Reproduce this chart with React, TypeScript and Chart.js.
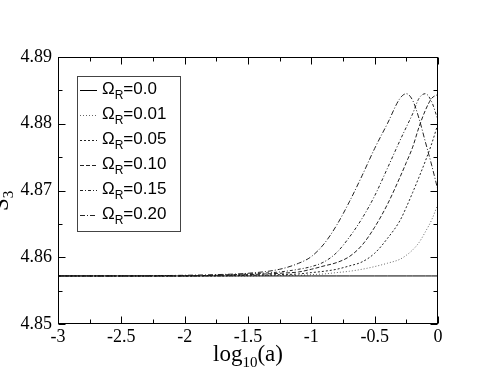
import React, { useEffect, useRef } from "react";
import { Chart, registerables } from "chart.js";

Chart.register(...registerables);

const logA = [-3, -2.5, -2, -1.75, -1.5, -1.25, -1.1, -1.0, -0.9, -0.8, -0.7, -0.6, -0.5, -0.4, -0.3, -0.25, -0.2, -0.15, -0.1, -0.05, 0];

const omega000 = [4.8572, 4.8572, 4.8572, 4.8572, 4.8572, 4.8572, 4.8572, 4.8572, 4.8572, 4.8572, 4.8572, 4.8572, 4.8572, 4.8572, 4.8572, 4.8572, 4.8572, 4.8572, 4.8572, 4.8572, 4.8572];
const omega001 = [4.8572, 4.8572, 4.8572, 4.8572, 4.8572, 4.8573, 4.8573, 4.8574, 4.8575, 4.8577, 4.8579, 4.8582, 4.8586, 4.8591, 4.8597, 4.8603, 4.8611, 4.8622, 4.8638, 4.8656, 4.868];
const omega005 = [4.8572, 4.8572, 4.8572, 4.8572, 4.8573, 4.8574, 4.8575, 4.8577, 4.8579, 4.8582, 4.8587, 4.8593, 4.8606, 4.8628, 4.8655, 4.8675, 4.8697, 4.872, 4.8744, 4.877, 4.88];
const omega010 = [4.8572, 4.8572, 4.8572, 4.8573, 4.8574, 4.8576, 4.8578, 4.8582, 4.8587, 4.8592, 4.8601, 4.8618, 4.8645, 4.8679, 4.872, 4.8742, 4.8765, 4.8795, 4.882, 4.8838, 4.8844];
const omega015 = [4.8572, 4.8572, 4.8572, 4.8573, 4.8575, 4.8578, 4.8582, 4.8586, 4.8593, 4.8607, 4.8630, 4.8658, 4.8692, 4.8733, 4.8775, 4.8795, 4.8815, 4.8838, 4.8845, 4.8833, 4.8805];
const omega020 = [4.8572, 4.8572, 4.8573, 4.8574, 4.8576, 4.8582, 4.8591, 4.8601, 4.862, 4.8648, 4.8683, 4.8722, 4.8763, 4.88, 4.8838, 4.8845, 4.8835, 4.8808, 4.8773, 4.8738, 4.87];

const seriesLabels = ["0.0", "0.01", "0.05", "0.10", "0.15", "0.20"];
const seriesValues = [omega000, omega001, omega005, omega010, omega015, omega020];
const seriesDash = [[], [1, 2], [2, 2], [4, 2], [3, 2, 1, 2], [5, 2, 1, 2]];
const seriesColor = ["#000000", "#666666", "#222222", "#222222", "#222222", "#222222"];

const yTickValues = [4.85, 4.86, 4.87, 4.88, 4.89];

const SERIF = "'Liberation Serif', 'Times New Roman', Times, serif";
const SANS = "'Liberation Sans', Arial, sans-serif";

Chart.defaults.font.family = SERIF;

const decorPlugin = {
  id: "decor",
  afterDraw(chart: any) {
    const ctx = chart.ctx as CanvasRenderingContext2D;
    const area = chart.chartArea;
    const xs = chart.scales.x;
    const ys = chart.scales.y;
    ctx.save();
    ctx.strokeStyle = "#000";
    ctx.lineWidth = 1;
    ctx.setLineDash([]);
    const L = Math.round(area.left) + 0.5;
    const R = Math.round(area.right) - 0.5;
    const T = Math.round(area.top) + 0.5;
    const B = Math.round(area.bottom) - 0.5;
    ctx.strokeRect(L, T, R - L, B - T);
    ctx.beginPath();
    for (let i = 0; i <= 12; i++) {
      const v = -3 + i * 0.25;
      const px = Math.round(xs.getPixelForValue(v)) + 0.5;
      const len = i % 2 === 0 ? 7 : 4;
      ctx.moveTo(px, B);
      ctx.lineTo(px, B - len);
      ctx.moveTo(px, T);
      ctx.lineTo(px, T + len);
    }
    for (let i = 0; i <= 8; i++) {
      const v = 4.85 + i * 0.005;
      const py = Math.round(ys.getPixelForValue(v)) + 0.5;
      const len = i % 2 === 0 ? 7 : 4;
      ctx.moveTo(L, py);
      ctx.lineTo(L + len, py);
      ctx.moveTo(R, py);
      ctx.lineTo(R - len, py);
    }
    ctx.stroke();

    ctx.fillStyle = "#000";
    ctx.textBaseline = "alphabetic";
    ctx.textAlign = "left";
    const big = "23px " + SERIF;
    const small = "15px " + SERIF;
    ctx.font = big;
    const w1 = ctx.measureText("log").width;
    const w3 = ctx.measureText("(a)").width;
    ctx.font = small;
    const w2 = ctx.measureText("10").width;
    const total = w1 + w2 + w3;
    const cx = (area.left + area.right) / 2;
    const x0 = cx - total / 2;
    const base = 361;
    ctx.font = big;
    ctx.fillText("log", x0, base);
    ctx.font = small;
    ctx.fillText("10", x0 + w1, base + 6);
    ctx.font = big;
    ctx.fillText("(a)", x0 + w1 + w2, base);

    ctx.save();
    ctx.translate(8, 211);
    ctx.rotate(-Math.PI / 2);
    ctx.font = big;
    ctx.fillText("S", 0, 0);
    const sw = ctx.measureText("S").width;
    ctx.font = small;
    ctx.fillText("3", sw, 5);
    ctx.restore();

    const bx = 77.5, by = 76.5, bw = 103, bh = 155;
    ctx.fillStyle = "#fff";
    ctx.fillRect(bx, by, bw, bh);
    ctx.strokeStyle = "#444";
    ctx.lineWidth = 1;
    ctx.strokeRect(bx, by, bw, bh);
    const datasets = chart.data.datasets;
    for (let i = 0; i < datasets.length; i++) {
      const ds = datasets[i];
      const baseY = 94 + i * 25;
      ctx.strokeStyle = ds.borderColor;
      ctx.lineWidth = 1;
      ctx.setLineDash(ds.borderDash || []);
      ctx.beginPath();
      ctx.moveTo(80, baseY - 3.5);
      ctx.lineTo(97, baseY - 3.5);
      ctx.stroke();
      ctx.setLineDash([]);
      ctx.fillStyle = "#000";
      ctx.font = "17px " + SANS;
      let tx = 102;
      ctx.fillText("\u03A9", tx, baseY);
      tx += ctx.measureText("\u03A9").width;
      ctx.font = "12px " + SANS;
      ctx.fillText("R", tx, baseY + 5);
      tx += ctx.measureText("R").width;
      ctx.font = "17px " + SANS;
      ctx.fillText("=" + seriesLabels[i], tx, baseY);
    }
    ctx.restore();
  },
};

export default function App() {
  const canvasRef = useRef<HTMLCanvasElement | null>(null);

  useEffect(() => {
    const canvas = canvasRef.current;
    if (!canvas) return;
    const datasets = seriesValues.map((vals, i) => ({
      label: "\u03A9R=" + seriesLabels[i],
      data: logA.map((x, j) => ({ x, y: vals[j] })),
      borderColor: seriesColor[i],
      borderWidth: 1,
      borderDash: seriesDash[i],
      pointRadius: 0,
      fill: false,
      cubicInterpolationMode: "monotone" as const,
      tension: 0.4,
    }));
    const chart = new Chart(canvas, {
      type: "line",
      data: { datasets },
      options: {
        responsive: false,
        animation: false,
        devicePixelRatio: 1,
        layout: { padding: { left: 0, top: 57, right: 56, bottom: 0 } },
        plugins: { legend: { display: false }, tooltip: { enabled: false } },
        scales: {
          x: {
            type: "linear",
            min: -3,
            max: 0,
            grid: { display: false, drawTicks: false },
            border: { display: false },
            afterFit: (s: any) => {
              s.height = 58;
            },
            ticks: {
              stepSize: 0.5,
              padding: 2,
              color: "#000",
              maxRotation: 0,
              font: { family: SERIF, size: 18 },
              callback: (v: any) => String(Number(Number(v).toFixed(1))),
            },
          },
          y: {
            type: "linear",
            min: 4.85,
            max: 4.89,
            grid: { display: false, drawTicks: false },
            border: { display: false },
            afterFit: (s: any) => {
              s.width = 58;
            },
            afterBuildTicks: (s: any) => {
              s.ticks = yTickValues.map((v) => ({ value: v }));
            },
            ticks: {
              padding: 6,
              color: "#000",
              font: { family: SERIF, size: 18 },
              callback: (v: any) => Number(v).toFixed(2),
            },
          },
        },
      },
      plugins: [decorPlugin],
    });
    return () => chart.destroy();
  }, []);

  return (
    <div style={{ position: "absolute", left: 0, top: 0, width: 494, height: 382, background: "#fff" }}>
      <canvas ref={canvasRef} width={494} height={382} style={{ display: "block" }} />
    </div>
  );
}
